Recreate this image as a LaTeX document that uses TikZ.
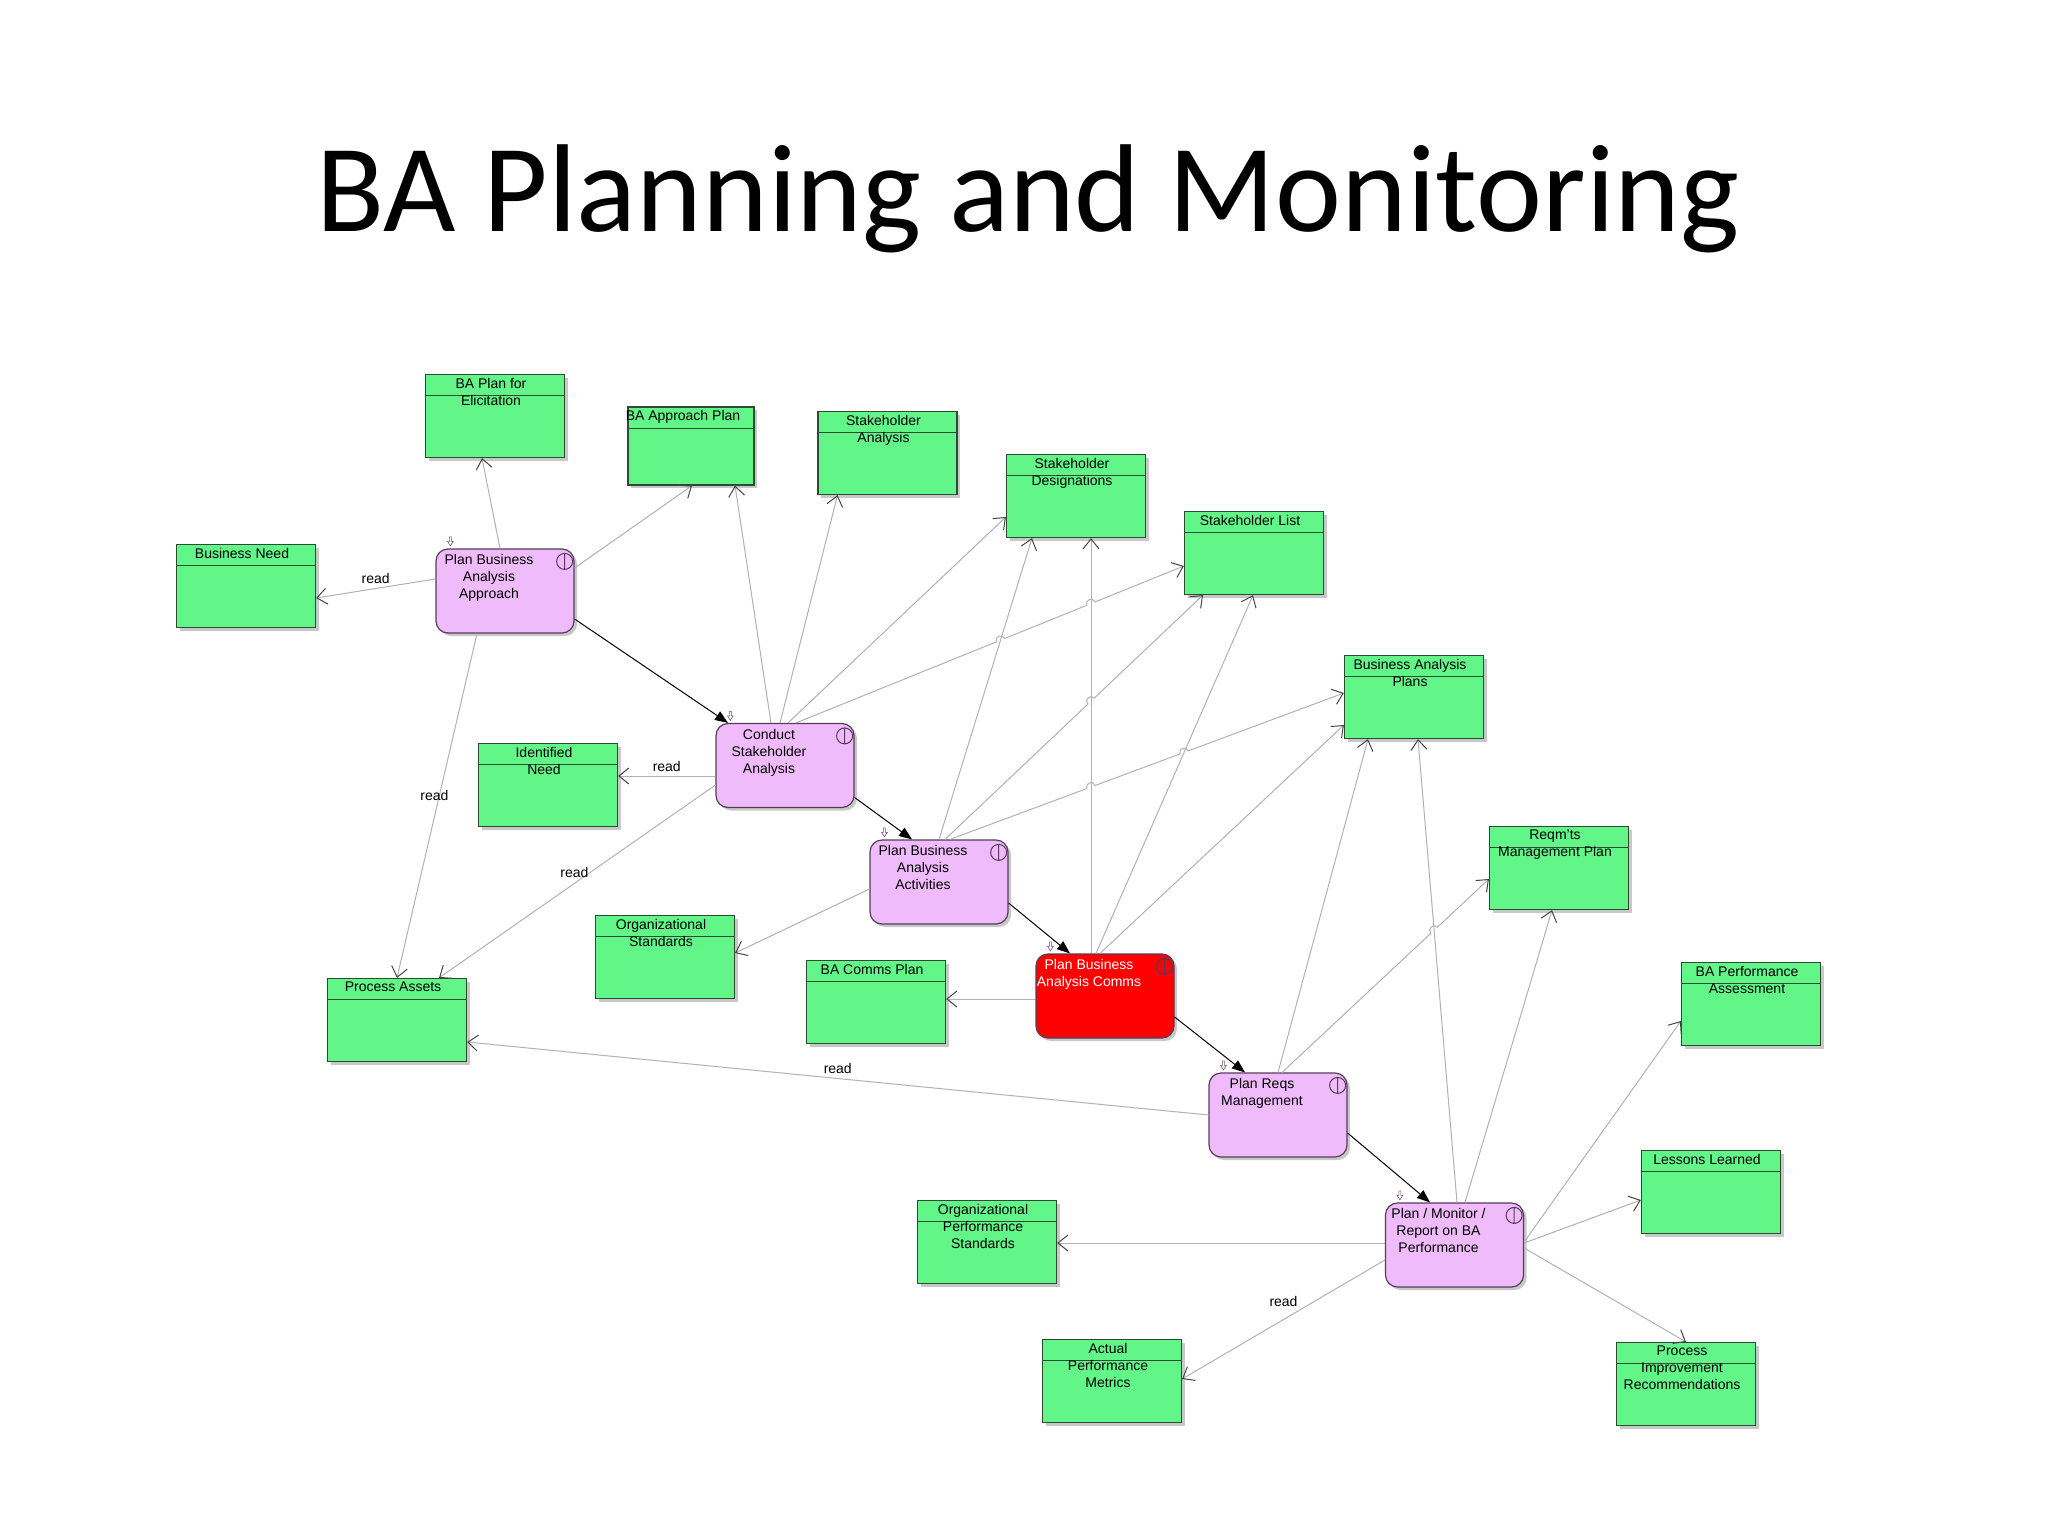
\documentclass[tikz,border=0pt]{standalone}
\usepackage{fontspec}
\setmainfont{Liberation Sans}
\newfontfamily\titlefont{Carlito}
\usetikzlibrary{arrows.meta,shadows,intersections,calc}

\definecolor{artgreen}{RGB}{98,245,136}
\definecolor{artline}{RGB}{45,75,50}
\definecolor{actpink}{RGB}{240,187,250}
\definecolor{actline}{RGB}{85,60,90}
\definecolor{actred}{RGB}{255,0,0}
\definecolor{depgray}{RGB}{178,178,178}
\definecolor{tipgray}{RGB}{70,70,70}
\definecolor{markpurple}{RGB}{120,80,130}
\definecolor{shadowgray}{RGB}{200,200,200}

\begin{document}
\begin{tikzpicture}[
    x=0.5pt, y=-0.5pt,
    every node/.style={font=\fontsize{7pt}{8.5pt}\selectfont},
    artifact/.style={rectangle, draw=artline, fill=artgreen, line width=0.6pt,
        minimum width=69.5pt, minimum height=41.5pt, inner sep=0pt,
        drop shadow={shadow xshift=1.5pt, shadow yshift=-1.5pt, fill=shadowgray, opacity=1},
        path picture={\draw[artline, line width=0.5pt]
            ([yshift=-10.5pt]path picture bounding box.north west) --
            ([yshift=-10.5pt]path picture bounding box.north east);}},
    arttext/.style={anchor=north, align=center, inner sep=1.8pt, xshift=-2pt},
    activity/.style={rectangle, rounded corners=6pt, draw=actline, fill=actpink, line width=0.6pt,
        minimum width=69pt, minimum height=42pt, inner sep=0pt,
        drop shadow={shadow xshift=1.5pt, shadow yshift=-1.5pt, fill=shadowgray, opacity=1}},
    acttext/.style={anchor=north, align=center, inner sep=3pt, xshift=-8pt},
    dep/.style={draw=depgray, line width=0.5pt, -{Straight Barb[length=5pt,width=8pt,color=tipgray]}},
    flow/.style={draw=black, line width=0.5pt, -{Triangle[length=6.5pt,width=5pt]}},
    hop/.style={bend left=90, looseness=1.7},
    readlbl/.style={inner sep=1pt}
]
\fill[white] (0,0) rectangle (2048,1536);
\useasboundingbox (0,0) rectangle (2048,1536);

\node (title) [anchor=base] at (1028,231) {\titlefont\fontsize{62.5pt}{75pt}\selectfont BA Planning and Monitoring};

% work products
\node (elic) [artifact, label={[arttext]north:{BA Plan for\\Elicitation}}] at (495,416) {};
\node (approach) [artifact, minimum width=63pt, minimum height=39pt, label={[arttext, xshift=-2pt]north:{BA Approach Plan}}] at (691,446) {};
\node (sanal) [artifact, label={[arttext]north:{Stakeholder\\Analysis}}] at (887.5,453) {};
\node (sdes) [artifact, label={[arttext]north:{Stakeholder\\Designations}}] at (1076,496) {};
\node (slist) [artifact, label={[arttext]north:{Stakeholder List}}] at (1254,553) {};
\node (bneed) [artifact, label={[arttext]north:{Business Need}}] at (246,586) {};
\node (baplans) [artifact, label={[arttext]north:{Business Analysis\\Plans}}] at (1414,697) {};
\node (idneed) [artifact, label={[arttext]north:{Identified\\Need}}] at (548,785) {};
\node (rmplan) [artifact, label={[arttext]north:{Reqm'ts\\Management Plan}}] at (1559,868) {};
\node (orgstd) [artifact, label={[arttext]north:{Organizational\\Standards}}] at (665,957) {};
\node (commsplan) [artifact, label={[arttext]north:{BA Comms Plan}}] at (876,1002) {};
\node (passets) [artifact, label={[arttext]north:{Process Assets}}] at (397,1020) {};
\node (perfassess) [artifact, label={[arttext]north:{BA Performance\\Assessment}}] at (1751,1004) {};
\node (lessons) [artifact, label={[arttext]north:{Lessons Learned}}] at (1711,1192) {};
\node (orgperf) [artifact, label={[arttext]north:{Organizational\\Performance\\Standards}}] at (987,1242) {};
\node (actmetrics) [artifact, label={[arttext]north:{Actual\\Performance\\Metrics}}] at (1112,1381) {};
\node (procimp) [artifact, label={[arttext]north:{Process\\Improvement\\Recommendations}}] at (1686,1384) {};

% tasks
\node (pbaa) [activity, label={[acttext]north:{Plan Business\\Analysis\\Approach}}] at (505,591) {};
\node (csa) [activity, label={[acttext]north:{Conduct\\Stakeholder\\Analysis}}] at (785,765.5) {};
\node (pbaact) [activity, label={[acttext]north:{Plan Business\\Analysis\\Activities}}] at (939,882) {};
\node (pbac) [activity, fill=actred, label={[acttext, text=white]north:{Plan Business\\Analysis Comms}}] at (1105,996) {};
\node (prm) [activity, label={[acttext]north:{Plan Reqs\\Management}}] at (1278,1115) {};
\node (pmr) [activity, label={[acttext]north:{Plan / Monitor /\\Report on BA\\Performance}}] at (1454.5,1245) {};

\foreach \p in {pbaa,csa,pbaact,pbac,prm,pmr} {
  \draw[actline, line width=0.5pt] ([shift={(-10,13)}]\p.north east) circle (4pt)
      ([shift={(-10,5)}]\p.north east) -- ([shift={(-10,21)}]\p.north east);
  \begin{scope}[shift={(\p.north west)}]
    \draw[markpurple, line width=0.3pt, fill=white] (14,-11.5) -- (16,-11.5) -- (16,-7) -- (17.8,-7)
        -- (15,-2.5) -- (12.2,-7) -- (14,-7) -- cycle;
  \end{scope}
}

% inputs and outputs
\draw[dep] ([shift={(-5,0)}]pbaa.north) -- ([shift={(-13,0)}]elic.south);
\draw[dep] ([shift={(0,-12)}]pbaa.west) -- node[readlbl, above=1pt] {read} ([shift={(0,12)}]bneed.east);
\draw[dep] ([shift={(0,-23)}]pbaa.east) -- ([shift={(1,0)}]approach.south);
\draw[dep] ([shift={(-28,0)}]pbaa.south) -- node[readlbl, pos=0.47, xshift=-2.5pt] {read} (passets.north);

\draw[dep] ([shift={(-14,0)}]csa.north) -- ([shift={(44,0)}]approach.south);
\draw[dep] ([shift={(-5,0)}]csa.north) -- ([shift={(-50,0)}]sanal.south);
\draw[dep] ([shift={(3,0)}]csa.north) -- ([shift={(0,21)}]sdes.west);
\draw[dep] ([shift={(0,10.5)}]csa.west) -- node[readlbl, above=1pt] {read} ([shift={(0,-9)}]idneed.east);
\draw[dep] ([shift={(0,19.5)}]csa.west) -- node[readlbl, pos=0.51, above=1.5pt] {read} ([shift={(42,0)}]passets.north);

\draw[dep] ([shift={(0,7)}]pbaact.west) -- ([shift={(0,-4)}]orgstd.east);
\draw[dep, name path=actsd] (pbaact.north) -- ([shift={(-44,0)}]sdes.south);

\draw[dep] ([shift={(0,3)}]pbac.west) -- ([shift={(0,-3)}]commsplan.east);
\draw[dep, name path=pcsd] ([shift={(-14,0)}]pbac.north) -- ([shift={(15,0)}]sdes.south);
\draw[dep, name path=pcsl] ([shift={(-9,0)}]pbac.north) -- ([shift={(-1,0)}]slist.south);
\draw[dep] ([shift={(-5,0)}]pbac.north) -- ([shift={(0,28)}]baplans.west);

\draw[dep] (prm.west) -- node[readlbl, above=1pt] {read} ([shift={(0,22)}]passets.east);
\draw[dep] (prm.north) -- ([shift={(-46,0)}]baplans.south);

\draw[dep, name path=pmrbap] ([shift={(2.5,0)}]pmr.north) -- ([shift={(4,0)}]baplans.south);
\draw[dep] ([shift={(10.5,0)}]pmr.north) -- ([shift={(-7,0)}]rmplan.south);
\draw[dep] ([shift={(0,-3)}]pmr.east) -- ([shift={(0,17)}]perfassess.west);
\draw[dep] ([shift={(0,-2)}]pmr.east) -- ([shift={(0,8)}]lessons.west);
\draw[dep] ([shift={(0,3)}]pmr.east) -- (procimp.north);
\draw[dep] ([shift={(0,-2)}]pmr.west) -- ([shift={(0,1)}]orgperf.east);
\draw[dep] ([shift={(0,15)}]pmr.west) -- node[readlbl, pos=0.5, above=5pt] {read} ([shift={(0,-2)}]actmetrics.east);

% lines that hop over the ones they cross
\coordinate (cslA) at ([shift={(11,0)}]csa.north);
\coordinate (cslB) at ([shift={(0,13)}]slist.west);
\path[name path=cslpath] (cslA) -- (cslB);
\path[name intersections={of=cslpath and actsd, by=hopa}];
\path[name intersections={of=cslpath and pcsd, by=hopb}];
\draw[dep] (cslA) -- ($(hopa)!2.2pt!(cslA)$) to[hop] ($(hopa)!2.2pt!(cslB)$)
    -- ($(hopb)!2.2pt!(cslA)$) to[hop] ($(hopb)!2.2pt!(cslB)$) -- (cslB);

\coordinate (aslA) at ([shift={(6,0)}]pbaact.north);
\coordinate (aslB) at ([shift={(-51,0)}]slist.south);
\path[name path=aslpath] (aslA) -- (aslB);
\path[name intersections={of=aslpath and pcsd, by=hopc}];
\draw[dep] (aslA) -- ($(hopc)!2.2pt!(aslA)$) to[hop] ($(hopc)!2.2pt!(aslB)$) -- (aslB);

\coordinate (abpA) at ([shift={(11,0)}]pbaact.north);
\coordinate (abpB) at ([shift={(0,-4)}]baplans.west);
\path[name path=abppath] (abpA) -- (abpB);
\path[name intersections={of=abppath and pcsd, by=hopd}];
\path[name intersections={of=abppath and pcsl, by=hope}];
\draw[dep] (abpA) -- ($(hopd)!2.2pt!(abpA)$) to[hop] ($(hopd)!2.2pt!(abpB)$)
    -- ($(hope)!2.2pt!(abpA)$) to[hop] ($(hope)!2.2pt!(abpB)$) -- (abpB);

\coordinate (rrpA) at ([shift={(4,0)}]prm.north);
\coordinate (rrpB) at ([shift={(0,11)}]rmplan.west);
\path[name path=rrppath] (rrpA) -- (rrpB);
\path[name intersections={of=rrppath and pmrbap, by=hopf}];
\draw[dep] (rrpA) -- ($(hopf)!2.2pt!(rrpA)$) to[hop] ($(hopf)!2.2pt!(rrpB)$) -- (rrpB);

% task sequence
\draw[flow] ([shift={(0,28)}]pbaa.east) -- ([shift={(-57,0)}]csa.north);
\draw[flow] ([shift={(0,32)}]csa.east) -- ([shift={(-27,0)}]pbaact.north);
\draw[flow] ([shift={(0,21)}]pbaact.east) -- ([shift={(-35,0)}]pbac.north);
\draw[flow] ([shift={(0,21)}]pbac.east) -- ([shift={(-33,0)}]prm.north);
\draw[flow] ([shift={(0,18)}]prm.east) -- ([shift={(-24.5,0)}]pmr.north);

\end{tikzpicture}
\end{document}
